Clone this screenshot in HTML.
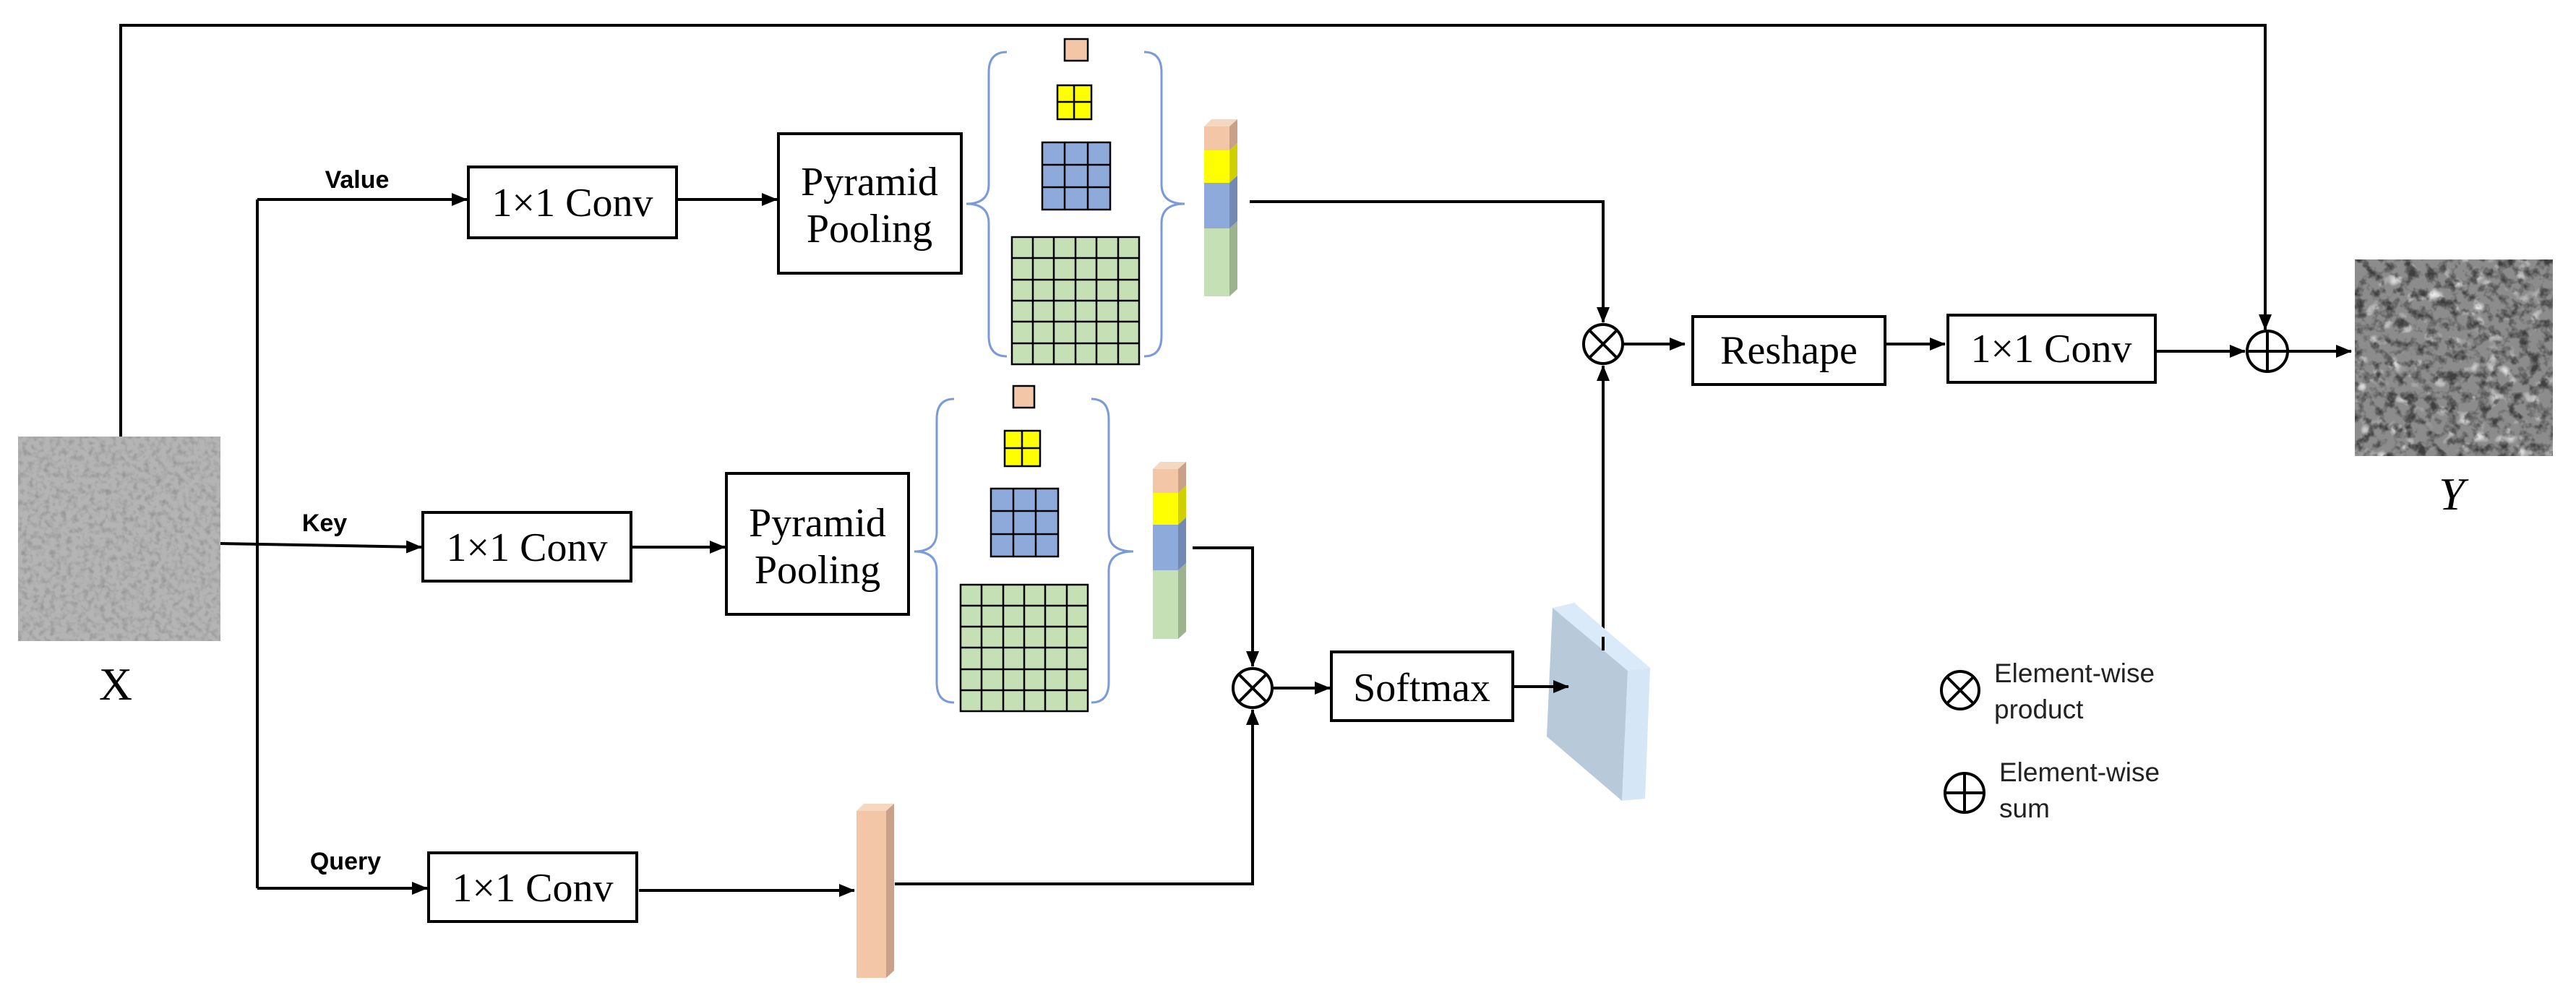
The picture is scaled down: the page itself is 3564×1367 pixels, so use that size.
<!DOCTYPE html>
<html><head><meta charset="utf-8"><style>
html,body{margin:0;padding:0;background:#fff;}
svg{display:block;}
.t{font-family:"Liberation Serif",serif;font-size:56px;fill:#000;}
.l{font-family:"Liberation Sans",sans-serif;font-size:34px;font-weight:bold;fill:#000;}
.g{font-family:"Liberation Sans",sans-serif;font-size:37px;fill:#222;}
</style></head><body>
<svg width="3564" height="1367" viewBox="0 0 3564 1367" xmlns="http://www.w3.org/2000/svg">
<defs>
<marker id="a" markerWidth="22" markerHeight="18" refX="21" refY="9" orient="auto" markerUnits="userSpaceOnUse">
<path d="M0,0 L22,9 L0,18 Z" fill="#000"/></marker>
<filter id="nx" x="0" y="0" width="1" height="1">
<feTurbulence type="fractalNoise" baseFrequency="0.13" numOctaves="2" seed="3"/>
<feColorMatrix type="matrix" values="0 0 0 0 0.3  0 0 0 0 0.3  0 0 0 0 0.3  2.2 0 0 0 -0.95"/>
</filter>
<filter id="ny" x="0" y="0" width="1" height="1">
<feTurbulence type="fractalNoise" baseFrequency="0.07" numOctaves="3" seed="7"/>
<feColorMatrix type="matrix" values="0 0 0 0 0.05  0 0 0 0 0.05  0 0 0 0 0.05  3.2 0 0 0 -1.45"/>
</filter>
<filter id="ny2" x="0" y="0" width="1" height="1">
<feTurbulence type="fractalNoise" baseFrequency="0.05" numOctaves="2" seed="11"/>
<feColorMatrix type="matrix" values="0 0 0 0 0.92  0 0 0 0 0.92  0 0 0 0 0.92  3 0 0 0 -1.75"/>
</filter>
</defs>
<g stroke="#000" stroke-width="4" fill="none">
<polyline points="167,788 167,35 3134,35 3134,456" marker-end="url(#a)"/>
<polyline points="356,276 356,1229"/>
<line x1="356" y1="276" x2="646" y2="276" marker-end="url(#a)"/>
<line x1="305" y1="752" x2="583" y2="757" marker-end="url(#a)"/>
<line x1="356" y1="1229" x2="591" y2="1229" marker-end="url(#a)"/>
<line x1="936" y1="276" x2="1075" y2="276" marker-end="url(#a)"/>
<line x1="873" y1="757" x2="1003" y2="757" marker-end="url(#a)"/>
<line x1="884" y1="1232" x2="1182" y2="1232" marker-end="url(#a)"/>
<polyline points="1729,279 2218,279 2218,446" marker-end="url(#a)"/>
<polyline points="1650,758 1733,758 1733,922" marker-end="url(#a)"/>
<polyline points="1238,1223 1733,1223 1733,982" marker-end="url(#a)"/>
<line x1="1761" y1="952" x2="1840" y2="952" marker-end="url(#a)"/>
<line x1="2218" y1="881" x2="2218" y2="506" marker-end="url(#a)"/>
<line x1="2246" y1="476" x2="2331" y2="476" marker-end="url(#a)"/>
<line x1="2608" y1="476" x2="2691" y2="476" marker-end="url(#a)"/>
<line x1="2982" y1="486" x2="3106" y2="486" marker-end="url(#a)"/>
<line x1="3165" y1="486" x2="3253" y2="486" marker-end="url(#a)"/>
<rect x="648" y="231" width="288" height="98"/>
<rect x="1077" y="185" width="253" height="193"/>
<rect x="585" y="709" width="288" height="95"/>
<rect x="1005" y="655" width="252" height="195"/>
<rect x="593" y="1180" width="288" height="95"/>
<rect x="1842" y="902" width="251" height="95"/>
<rect x="2342" y="438" width="266" height="94"/>
<rect x="2695" y="436" width="287" height="93"/>
<circle cx="2218" cy="476" r="27"/><line x1="2199" y1="457" x2="2237" y2="495"/><line x1="2237" y1="457" x2="2199" y2="495"/>
<circle cx="1733" cy="952" r="27"/><line x1="1714" y1="933" x2="1752" y2="971"/><line x1="1752" y1="933" x2="1714" y2="971"/>
<circle cx="3137" cy="486" r="28"/><line x1="3109" y1="486" x2="3165" y2="486"/><line x1="3137" y1="458" x2="3137" y2="514"/>
<circle cx="2712" cy="955" r="26"/><line x1="2694" y1="937" x2="2730" y2="973"/><line x1="2730" y1="937" x2="2694" y2="973"/>
<circle cx="2718" cy="1097" r="27"/><line x1="2691" y1="1097" x2="2745" y2="1097"/><line x1="2718" y1="1070" x2="2718" y2="1124"/>
</g>
<rect x="25" y="604" width="280" height="283" fill="#b4b4b4"/>
<rect x="25" y="604" width="280" height="283" filter="url(#nx)"/>
<rect x="3258" y="359" width="274" height="272" fill="#8c8c8c"/>
<rect x="3258" y="359" width="274" height="272" filter="url(#ny2)"/>
<rect x="3258" y="359" width="274" height="272" filter="url(#ny)"/>
<g stroke="#7a9bd8" stroke-width="3" fill="none">
<path d="M1393,72 Q1368,72 1368,100 L1368,255 Q1368,282 1337,282 Q1368,282 1368,309 L1368,465 Q1368,493 1393,493"/>
<path d="M1583,72 Q1607,72 1607,100 L1607,255 Q1607,282 1639,282 Q1607,282 1607,309 L1607,465 Q1607,493 1583,493"/>
<path d="M1320,552 Q1296,552 1296,580 L1296,736 Q1296,763 1265,763 Q1296,763 1296,790 L1296,944 Q1296,972 1320,972"/>
<path d="M1510,552 Q1534,552 1534,580 L1534,736 Q1534,763 1568,763 Q1534,763 1534,790 L1534,944 Q1534,972 1510,972"/>
</g>
<g stroke="#000" stroke-width="2.5">
<rect x="1473" y="54" width="32" height="30" fill="#f3c6a8"/>
<rect x="1463" y="118" width="47" height="47" fill="#ffff00"/>
<path d="M1486,118V165M1463,141H1510" fill="none"/>
<rect x="1442" y="197" width="94" height="93" fill="#8eaadb"/>
<path d="M1473,197V290M1505,197V290M1442,228H1536M1442,259H1536" fill="none"/>
<rect x="1400" y="328" width="176" height="176" fill="#c5e0b4"/>
<path d="M1429,328V504M1458,328V504M1488,328V504M1517,328V504M1547,328V504M1400,357H1576M1400,387H1576M1400,416H1576M1400,445H1576M1400,475H1576" fill="none"/>
<rect x="1402" y="534" width="29" height="30" fill="#f3c6a8"/>
<rect x="1390" y="596" width="49" height="49" fill="#ffff00"/>
<path d="M1414,596V645M1390,620H1439" fill="none"/>
<rect x="1371" y="676" width="93" height="94" fill="#8eaadb"/>
<path d="M1402,676V770M1433,676V770M1371,707H1464M1371,739H1464" fill="none"/>
<rect x="1329" y="809" width="176" height="175" fill="#c5e0b4"/>
<path d="M1358,809V984M1388,809V984M1417,809V984M1446,809V984M1476,809V984M1329,838H1505M1329,867H1505M1329,896H1505M1329,926H1505M1329,955H1505" fill="none"/>
</g>
<polygon points="1666,175 1676,165 1712,165 1701,175" fill="#f6d7c0"/>
<rect x="1666" y="175" width="35" height="33" fill="#f3c6a8"/>
<rect x="1666" y="208" width="35" height="45" fill="#ffff00"/>
<rect x="1666" y="253" width="35" height="63" fill="#8eaadb"/>
<rect x="1666" y="316" width="35" height="94" fill="#c5e0b4"/>
<polygon points="1701,175 1712,165 1712,198 1701,208" fill="#c9a088"/>
<polygon points="1701,208 1712,198 1712,243 1701,253" fill="#d0d000"/>
<polygon points="1701,253 1712,243 1712,306 1701,316" fill="#7388b3"/>
<polygon points="1701,316 1712,306 1712,400 1701,410" fill="#9db38f"/>
<polygon points="1595,649 1605,639 1641,639 1630,649" fill="#f6d7c0"/>
<rect x="1595" y="649" width="35" height="33" fill="#f3c6a8"/>
<rect x="1595" y="682" width="35" height="44" fill="#ffff00"/>
<rect x="1595" y="726" width="35" height="63" fill="#8eaadb"/>
<rect x="1595" y="789" width="35" height="95" fill="#c5e0b4"/>
<polygon points="1630,649 1641,639 1641,672 1630,682" fill="#c9a088"/>
<polygon points="1630,682 1641,672 1641,716 1630,726" fill="#d0d000"/>
<polygon points="1630,726 1641,716 1641,779 1630,789" fill="#7388b3"/>
<polygon points="1630,789 1641,779 1641,874 1630,884" fill="#9db38f"/>
<polygon points="1185,1122 1195,1112 1237,1112 1226,1122" fill="#f6d7c0"/>
<rect x="1185" y="1122" width="41" height="231" fill="#f3c6a8"/>
<polygon points="1226,1122 1237,1112 1237,1343 1226,1353" fill="#c9a088"/>
<polygon points="2148,841 2178,834 2283,924 2252,928" fill="#dbeaf8"/>
<polygon points="2252,928 2283,924 2276,1105 2244,1108" fill="#d5e6f7"/>
<polygon points="2148,841 2252,928 2244,1108 2140,1019" fill="#b8c9d9"/>
<line x1="2218" y1="881" x2="2218" y2="900" stroke="#000" stroke-width="4"/>
<line x1="2093" y1="950" x2="2170" y2="950" stroke="#000" stroke-width="4" marker-end="url(#a)"/>
<text class="t" x="792" y="299" text-anchor="middle">1×1 Conv</text>
<text class="t" x="1203" y="270" text-anchor="middle">Pyramid</text>
<text class="t" x="1203" y="335" text-anchor="middle">Pooling</text>
<text class="t" x="729" y="776" text-anchor="middle">1×1 Conv</text>
<text class="t" x="1131" y="742" text-anchor="middle">Pyramid</text>
<text class="t" x="1131" y="807" text-anchor="middle">Pooling</text>
<text class="t" x="737" y="1247" text-anchor="middle">1×1 Conv</text>
<text class="t" x="1967" y="970" text-anchor="middle">Softmax</text>
<text class="t" x="2475" y="503" text-anchor="middle">Reshape</text>
<text class="t" x="2838" y="501" text-anchor="middle">1×1 Conv</text>
<text class="l" x="494" y="260" text-anchor="middle">Value</text>
<text class="l" x="449" y="735" text-anchor="middle">Key</text>
<text class="l" x="478" y="1203" text-anchor="middle">Query</text>
<text class="t" x="160" y="968" text-anchor="middle" style="font-size:64px">X</text>
<text class="t" x="3392" y="705" text-anchor="middle" style="font-size:64px;font-style:italic">Y</text>
<text class="g" x="2759" y="944">Element-wise</text>
<text class="g" x="2759" y="994">product</text>
<text class="g" x="2766" y="1081">Element-wise</text>
<text class="g" x="2766" y="1131">sum</text>
</svg>
</body></html>
